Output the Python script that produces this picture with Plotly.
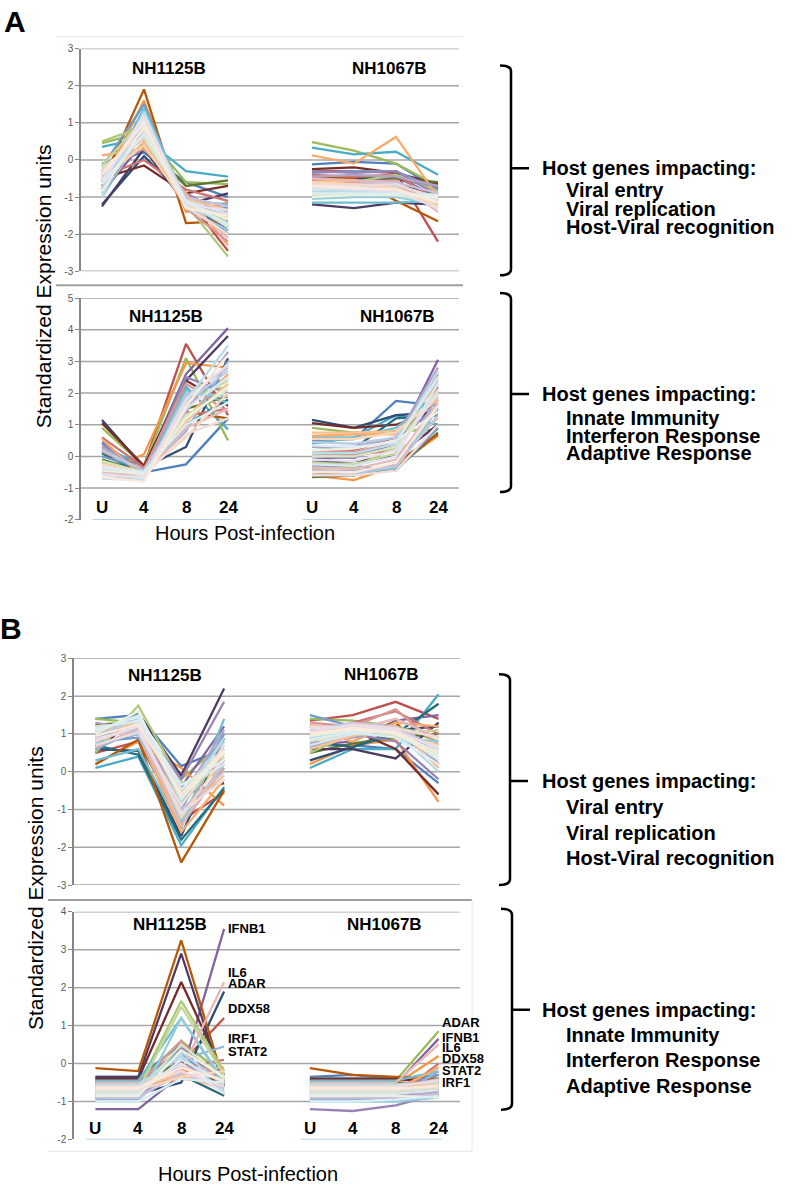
"""Host gene expression clusters after infection (panels A and B)."""

import plotly.graph_objects as go

W, H = 792, 1191
FONT = "Liberation Sans, Arial, sans-serif"

TIMEPOINTS = ["U", "4", "8", "24"]
STRAINS = ["NH1125B", "NH1067B"]
# slots on a shared category axis, slot 4 is the gap between the strains
X_1125 = [0, 1, 2, 3]
X_1067 = [5, 6, 7, 8]

COLORS = [
    "#4F81BD", "#C0504D", "#9BBB59", "#8064A2", "#4BACC6", "#F79646",
    "#2C4D75", "#772C2A", "#5F7530", "#4D3B62", "#276A7C", "#B65708",
    "#729ACA", "#CD7371", "#AFC97A", "#9983B5", "#6FBDD1", "#F9AB6B",
    "#95B3D7", "#D99694", "#C3D69B", "#B3A2C7", "#93CDDD", "#FAC090",
    "#B9CDE5", "#E6B9B8", "#D7E4BD", "#CCC1DA", "#B7DEE8", "#FCD5B5",
    "#DCE6F2", "#F2DCDB", "#EBF1DE", "#E6E0EC", "#DBEEF4", "#FDEADA",
]

# ---- panel A, top cluster ----
A_TOP_1125 = [
    [-0.1, 0.2, -0.6, -1.0], [-0.3, 0.9, -1.0, -2.45], [0.45, 0.75, -0.6, -0.65],
    [-0.9, 0.5, -1.1, -1.9], [0.35, 0.6, -0.3, -0.45], [-0.7, 1.6, -1.4, -1.15],
    [-1.2, 0.1, -1.0, -1.8], [-0.5, -0.15, -0.9, -0.7], [-0.4, 0.4, -0.7, -0.55],
    [-1.25, 0.3, -1.2, -0.9], [-0.6, 1.2, -1.1, -2.0], [-0.6, 1.9, -1.7, -1.65],
    [-0.2, 1.5, -1.2, -1.3], [-0.45, 0.0, -0.8, -1.1], [0.5, 0.9, -1.2, -2.6],
    [-0.3, 0.3, -0.9, -1.5], [-0.8, 1.4, -1.1, -1.2], [0.12, 0.3, -0.9, -2.3],
    [-1.0, 0.8, -1.15, -1.6], [-0.35, 0.6, -1.3, -2.2], [-0.15, 1.1, -1.0, -1.7],
    [-0.7, 0.9, -1.2, -1.4], [-0.5, 1.0, -1.3, -1.9], [-0.6, 0.5, -1.05, -1.35],
    [-0.9, 1.2, -1.2, -1.5], [-0.4, 0.7, -1.1, -2.1], [-0.2, 0.6, -1.15, -1.8],
    [-0.75, 1.0, -1.0, -1.25], [-1.0, 1.3, -1.25, -1.7], [-0.5, 0.4, -1.2, -1.55],
    [-0.6, 1.1, -1.1, -1.45], [-0.3, 0.8, -1.25, -2.0], [-0.85, 0.9, -1.15, -1.6],
    [-0.55, 1.2, -1.2, -1.35], [-0.65, 0.7, -1.1, -1.75], [-0.4, 1.0, -1.3, -1.5],
]
A_TOP_1067 = [
    [-0.12, -0.05, -0.1, -0.8], [-0.3, -0.3, -0.35, -2.2], [0.48, 0.25, -0.1, -0.7],
    [-0.6, -0.55, -0.5, -0.75], [0.33, 0.15, 0.22, -0.4], [-0.55, -0.6, -0.75, -0.9],
    [-0.45, -0.5, -0.45, -1.0], [-0.25, -0.2, -0.35, -0.65], [-0.5, -0.45, -0.5, -0.6],
    [-1.2, -1.3, -1.15, -1.2], [-0.7, -0.7, -0.65, -0.9], [-0.5, -0.5, -1.1, -1.65],
    [-0.35, -0.3, -0.3, -0.8], [-0.4, -0.45, -0.4, -1.1], [-0.65, -0.6, -0.4, -0.85],
    [-0.3, -0.35, -0.3, -0.95], [-1.15, -1.15, -1.15, -1.1], [0.12, -0.1, 0.62, -1.0],
    [-0.8, -0.8, -0.75, -1.05], [-0.55, -0.6, -0.55, -1.3], [-0.9, -0.85, -0.8, -0.95],
    [-0.45, -0.4, -0.45, -0.7], [-1.05, -1.0, -1.0, -1.2], [-0.6, -0.55, -0.7, -1.15],
    [-0.75, -0.7, -0.7, -1.0], [-0.5, -0.55, -0.6, -1.4], [-0.95, -0.9, -0.95, -1.15],
    [-0.7, -0.65, -0.6, -0.9], [-0.85, -0.85, -0.9, -1.05], [-0.6, -0.65, -0.75, -1.25],
    [-0.8, -0.75, -0.8, -1.1], [-0.65, -0.7, -0.65, -1.05], [-1.0, -0.95, -0.95, -1.0],
    [-0.75, -0.8, -0.85, -1.3], [-0.9, -0.9, -0.9, -0.95], [-0.7, -0.75, -0.8, -1.15],
]

# ---- panel A, bottom cluster ----
A_BOT_1125 = [
    [0.45, -0.5, -0.25, 1.2], [0.2, -0.3, 3.55, 1.3], [0.9, -0.3, 3.1, 0.5],
    [-0.2, -0.4, 2.6, 4.05], [0.3, -0.3, 2.2, 0.85], [-0.5, 0.07, 2.95, 2.8],
    [1.15, -0.35, 0.3, 3.1], [1.05, -0.3, 2.4, 1.6], [-0.1, -0.5, 1.5, 1.9],
    [-0.6, -0.45, 2.4, 3.8], [0.1, -0.6, 1.0, 1.8], [-0.6, -0.75, 1.4, 1.2],
    [0.0, -0.4, 1.8, 2.5], [0.6, -0.35, 1.3, 1.5], [-0.4, -0.6, 1.9, 2.2],
    [0.4, -0.5, 2.5, 2.0], [-0.3, -0.45, 2.1, 1.7], [0.55, -0.7, 1.2, 2.6],
    [-0.5, -0.55, 0.8, 3.0], [0.15, -0.4, 2.3, 1.4], [-0.2, -0.6, 1.6, 2.4],
    [0.3, -0.5, 1.4, 3.3], [-0.6, -0.7, 2.0, 1.9], [-0.35, -0.55, 1.1, 2.3],
    [0.2, -0.45, 1.7, 2.7], [-0.5, -0.65, 0.9, 1.5], [-0.15, -0.5, 1.3, 2.1],
    [-0.4, -0.6, 1.9, 2.8], [-0.7, -0.75, 1.75, 3.5], [-0.25, -0.5, 0.6, 2.0],
    [-0.55, -0.7, 1.5, 2.5], [-0.3, -0.6, 0.7, 1.2], [-0.45, -0.55, 1.2, 2.2],
    [-0.6, -0.65, 1.8, 2.9], [-0.35, -0.5, 1.0, 1.7], [-0.65, -0.8, 1.6, 3.2],
]
A_BOT_1067 = [
    [0.5, 0.55, 1.75, 1.6], [0.2, 0.2, 0.6, 1.8], [0.9, 0.75, 0.8, 0.85],
    [-0.1, 0.0, 0.4, 3.05], [0.4, 0.6, 1.3, 1.0], [-0.6, -0.75, -0.3, 0.65],
    [1.15, 0.9, 1.3, 1.4], [1.05, 0.9, 1.0, 1.5], [-0.65, -0.6, -0.4, 0.75],
    [-0.2, -0.15, 0.0, 1.0], [0.3, 0.25, 1.2, 1.3], [-0.5, -0.6, -0.2, 0.7],
    [-0.3, -0.3, -0.45, 0.9], [0.1, 0.05, 0.2, 2.2], [-0.4, -0.35, 0.3, 2.5],
    [0.0, -0.05, 0.5, 1.6], [0.6, 0.6, 0.9, 2.0], [0.65, 0.7, 0.7, 2.3],
    [-0.5, -0.45, -0.3, 1.9], [0.2, 0.15, 0.4, 2.6], [-0.2, -0.25, 0.1, 1.2],
    [0.3, 0.3, 0.6, 2.8], [-0.6, -0.55, -0.35, 1.5], [0.75, 0.75, 0.8, 1.8],
    [0.45, 0.4, 0.6, 2.4], [-0.35, -0.4, -0.1, 1.7], [0.0, 0.0, 0.3, 2.1],
    [-0.45, -0.5, -0.3, 1.3], [0.1, 0.1, 0.4, 2.7], [0.55, 0.55, 0.75, 1.9],
    [-0.25, -0.3, 0.0, 2.3], [-0.6, -0.6, -0.45, 1.0], [0.2, 0.25, 0.5, 1.4],
    [-0.1, -0.15, 0.2, 2.0], [0.35, 0.3, 0.45, 2.5], [-0.5, -0.5, -0.2, 1.6],
]

# ---- panel B, top cluster ----
B_TOP_1125 = [
    [1.4, 1.5, 0.15, 0.6], [0.5, 0.8, -1.3, -0.55], [1.4, 1.3, -0.2, 0.8],
    [0.7, 1.0, -0.4, 1.2], [0.1, 0.4, -1.95, -0.4], [0.2, 0.8, 0.1, -0.9],
    [0.6, 0.55, -1.7, 0.9], [1.0, 1.1, -0.6, -0.3], [1.25, 1.3, -0.5, 0.3],
    [0.5, 1.55, -0.1, 2.2], [0.7, 0.45, -1.8, -0.45], [0.2, 0.85, -2.4, -0.5],
    [0.8, 0.9, -1.0, 1.0], [1.1, 1.2, -0.8, 0.4], [0.5, 1.75, -0.3, 0.0],
    [0.9, 1.3, -0.2, 1.85], [0.3, 0.6, -1.5, 1.4], [1.2, 1.0, -1.6, -0.2],
    [0.6, 1.1, -1.2, 0.7], [1.0, 1.3, -1.4, 0.1], [0.85, 1.2, -0.9, 0.5],
    [1.3, 1.1, -0.7, 1.1], [0.75, 1.0, -1.3, 0.2], [1.1, 1.25, -1.1, -0.1],
    [0.95, 1.4, -0.6, 0.8], [0.65, 1.15, -1.45, 0.3], [1.2, 1.3, -0.5, 0.6],
    [0.9, 1.1, -1.0, 0.0], [1.05, 1.5, -0.8, 0.9], [0.8, 1.2, -1.2, 0.4],
    [1.15, 1.35, -0.45, 0.2], [0.7, 1.05, -0.9, 0.7], [1.0, 1.6, -0.7, 0.5],
    [0.85, 1.2, -1.1, -0.2], [1.1, 1.45, -0.35, 0.3], [0.95, 1.25, -0.6, 0.55],
]
B_TOP_1067 = [
    [0.7, 0.7, 0.6, -0.3], [1.35, 1.5, 1.85, 1.4], [1.4, 1.35, 1.2, 0.8],
    [0.7, 0.8, 1.35, 1.5], [0.1, 0.6, 0.6, 2.05], [0.2, 0.7, 0.85, -0.8],
    [0.3, 0.65, 1.1, 1.2], [1.0, 1.1, 0.6, -0.6], [0.5, 0.75, 0.9, 1.0],
    [0.6, 0.6, 0.35, 1.3], [0.8, 0.65, 1.0, 1.8], [1.2, 1.0, 1.3, 0.2],
    [1.5, 1.2, 1.1, 0.5], [0.85, 1.3, 1.6, 1.0], [0.5, 1.0, 1.2, 0.9],
    [1.2, 1.0, 0.8, -0.2], [0.9, 1.1, 1.0, 0.3], [1.1, 0.8, 1.3, 1.2],
    [0.65, 1.0, 1.15, 0.6], [1.3, 1.2, 1.65, 0.7], [0.95, 1.15, 1.0, 1.1],
    [0.75, 0.9, 1.1, 0.2], [1.15, 1.25, 0.9, 0.8], [0.6, 0.95, 1.2, 0.1],
    [1.0, 1.2, 1.1, 0.4], [1.25, 1.1, 1.4, 0.9], [0.8, 1.0, 0.95, 0.5],
    [1.1, 1.3, 1.2, 0.6], [0.9, 1.1, 1.05, 0.0], [1.2, 1.15, 1.0, 0.7],
    [0.7, 1.0, 1.1, 0.3], [1.05, 1.25, 1.15, 0.9], [0.95, 1.1, 1.0, 0.4],
    [1.15, 1.2, 1.1, 0.6], [0.85, 1.05, 0.9, 0.2], [1.0, 1.15, 1.05, 0.5],
]

# ---- panel B, bottom cluster ----
B_BOT_1125 = [
    [-0.35, -0.35, 0.5, -0.6], [-0.45, -0.45, 0.0, 1.2], [-0.55, -0.5, 0.6, -0.3],
    [-1.2, -1.2, -0.3, 3.55], [-0.4, -0.4, 0.3, -0.8], [-0.6, -0.55, -0.4, -0.5],
    [-0.8, -0.8, -0.5, 1.9], [-0.4, -0.4, 2.15, -0.3], [-0.5, -0.5, 0.05, -0.6],
    [-0.35, -0.35, 2.9, -0.6], [-0.7, -0.7, -0.3, -0.85], [-0.12, -0.2, 3.25, -0.5],
    [-0.6, -0.6, 0.2, -0.4], [-0.9, -0.85, -0.1, 0.1], [-0.65, -0.6, 1.65, -0.2],
    [-0.5, -0.5, 0.4, -0.35], [-0.45, -0.45, 1.2, -0.5], [-0.7, -0.7, -0.2, -0.1],
    [-0.95, -0.95, 0.1, 0.45], [-0.55, -0.55, 0.6, -0.6], [-0.75, -0.7, 1.5, -0.3],
    [-0.85, -0.85, 0.0, -0.5], [-1.0, -1.0, 1.2, -0.45], [-0.6, -0.6, -0.3, -0.7],
    [-0.65, -0.65, 0.3, -0.55], [-0.5, -0.5, -0.2, 2.15], [-0.75, -0.75, 0.5, -0.4],
    [-0.9, -0.9, -0.25, -0.65], [-0.55, -0.55, 0.2, -0.75], [-0.7, -0.7, -0.35, -0.2],
    [-0.8, -0.8, 0.1, -0.5], [-0.6, -0.6, -0.2, -0.6], [-0.85, -0.85, 0.35, -0.35],
    [-0.7, -0.7, 0.0, -0.8], [-1.0, -1.0, -0.4, -0.5], [-0.65, -0.65, -0.1, -0.45],
]
B_BOT_1067 = [
    [-0.35, -0.3, -0.4, -0.5], [-0.45, -0.45, -0.45, -0.4], [-0.5, -0.5, -0.45, 0.85],
    [-0.55, -0.55, -0.55, 0.65], [-0.4, -0.4, -0.4, -0.3], [-0.6, -0.6, -0.55, 0.2],
    [-0.8, -0.8, -0.75, -0.7], [-0.4, -0.4, -0.4, -0.5], [-0.5, -0.5, -0.5, -0.6],
    [-0.75, -0.75, -0.75, -0.85], [-0.7, -0.7, -0.7, -0.6], [-0.12, -0.3, -0.35, -0.4],
    [-0.6, -0.6, -0.6, -0.3], [-0.9, -0.9, -0.85, 0.0], [-0.65, -0.65, -0.6, -0.5],
    [-1.2, -1.25, -1.1, -0.8], [-0.45, -0.45, -0.45, -0.2], [-0.7, -0.7, -0.7, -0.1],
    [-0.95, -0.95, -0.9, -0.2], [-0.55, -0.55, -0.55, -0.45], [-0.75, -0.75, -0.7, -0.6],
    [-0.85, -0.85, -0.85, -0.75], [-1.0, -1.0, -1.0, -0.9], [-0.6, -0.6, -0.6, -0.55],
    [-0.65, -0.65, -0.65, -0.4], [-0.5, -0.5, -0.5, 0.5], [-0.75, -0.75, -0.75, -0.65],
    [-0.9, -0.9, -0.9, -0.8], [-0.55, -0.55, -0.55, -0.5], [-0.7, -0.7, -0.7, -0.55],
    [-0.8, -0.8, -0.8, -0.7], [-0.6, -0.6, -0.6, -0.45], [-0.85, -0.85, -0.85, -0.9],
    [-0.7, -0.7, -0.7, -0.6], [-1.0, -1.0, -0.95, -0.85], [-0.65, -0.65, -0.65, -0.6],
]

# labelled genes in panel B bottom (name, y of the label)
GENES_1125 = ["IFNB1", "IL6", "ADAR", "DDX58", "IRF1", "STAT2"]
GENES_1125_Y = [3.55, 2.4, 2.1, 1.46, 0.65, 0.31]
GENES_1067 = ["ADAR", "IFNB1", "IL6", "DDX58", "STAT2", "IRF1"]
GENES_1067_Y = [1.07, 0.68, 0.42, 0.13, -0.18, -0.5]

FUNCTIONS_TOP = ["Viral entry", "Viral replication", "Host-Viral recognition"]
FUNCTIONS_BOT = ["Innate Immunity", "Interferon Response", "Adaptive Response"]

# pixel boxes of the four plot areas: (x0, x1, y_top, y_bottom), y range, gridlines
PANELS = [
    dict(rows=(A_TOP_1125, A_TOP_1067), box=(81, 459, 43, 268), yr=(-3, 3), grid=range(-3, 4)),
    dict(rows=(A_BOT_1125, A_BOT_1067), box=(81, 459, 295, 519), yr=(-2, 5), grid=range(-1, 6)),
    dict(rows=(B_TOP_1125, B_TOP_1067), box=(74, 460, 659, 888), yr=(-3, 3), grid=range(-3, 4)),
    dict(rows=(B_BOT_1125, B_BOT_1067), box=(74, 460, 915, 1145), yr=(-2, 4), grid=range(-1, 5)),
]


def px(x):
    return x / W


def py(y):
    return 1 - y / H


def text(x, y, s, size, bold=True, anchor="center", **kw):
    return dict(
        x=px(x), y=py(y), xref="paper", yref="paper", showarrow=False,
        text=f"<b>{s}</b>" if bold else s, xanchor=anchor, yanchor="middle",
        font=dict(family=FONT, size=size, color="black"), **kw,
    )


def bracket(x, y_top, y_mid, y_bot):
    path = (
        f"M {px(x - 11)},{py(y_top)} Q {px(x)},{py(y_top)} {px(x)},{py(y_top + 6)} "
        f"L {px(x)},{py(y_bot - 6)} Q {px(x)},{py(y_bot)} {px(x - 11)},{py(y_bot)} "
        f"M {px(x)},{py(y_mid)} L {px(x + 18)},{py(y_mid)}"
    )
    return dict(type="path", xref="paper", yref="paper", path=path,
                line=dict(color="black", width=2.5))


fig = go.Figure()
shapes = []
annotations = []
layout_axes = {}

for n, panel in enumerate(PANELS, start=1):
    xa, ya = ("x", "y") if n == 1 else (f"x{n}", f"y{n}")
    x0, x1, y0, y1 = panel["box"]
    rows_1125, rows_1067 = panel["rows"]
    for i, (r1, r2) in enumerate(zip(rows_1125, rows_1067)):
        fig.add_trace(go.Scatter(
            x=X_1125 + [None] + X_1067,
            y=r1 + [None] + r2,
            mode="lines",
            line=dict(color=COLORS[i % len(COLORS)], width=2.3),
            xaxis=xa, yaxis=ya, showlegend=False, hoverinfo="skip",
        ))
    lo, hi = panel["yr"]
    layout_axes["xaxis" if n == 1 else f"xaxis{n}"] = dict(
        domain=[px(x0), px(x1)], range=[-0.5, 8.5], visible=False, anchor=ya,
    )
    layout_axes["yaxis" if n == 1 else f"yaxis{n}"] = dict(
        domain=[py(y1), py(y0)], range=[lo, hi], anchor=xa,
        tickvals=list(range(lo, hi + 1)), ticktext=[str(v) for v in range(lo, hi + 1)],
        showgrid=False, zeroline=False, showline=True, linecolor="#868686", linewidth=1.5,
        ticks="outside", ticklen=4, tickcolor="#868686",
        tickfont=dict(family=FONT, size=10, color="#595959"),
    )
    for v in panel["grid"]:
        shapes.append(dict(type="line", xref=f"{xa} domain", yref=ya, x0=0, x1=1, y0=v, y1=v,
                           line=dict(color="#A6A6A6", width=1.5), layer="below"))

# strain titles
for (x, y), s in zip([(169, 63), (389, 63), (166, 314), (398, 314),
                      (165, 676), (381, 675), (170, 928), (384, 928)], STRAINS * 4):
    annotations.append(text(x, y, s, 17))

# time point labels and blue underline, bottom clusters
for n, y_lab in [(2, -1.62), (4, -1.71)]:
    xa, ya = f"x{n}", f"y{n}"
    for xs in (X_1125, X_1067):
        for xv, t in zip(xs, TIMEPOINTS):
            annotations.append(dict(x=xv, y=y_lab, xref=xa, yref=ya, text=f"<b>{t}</b>",
                                    showarrow=False,
                                    font=dict(family=FONT, size=17, color="black")))
        shapes.append(dict(type="line", xref=xa, yref=ya, x0=xs[0] - 0.22, x1=xs[-1] + 0.08,
                           y0=-2, y1=-2, line=dict(color="#9DC3E6", width=1.5)))

# gene labels, B bottom
for g, yv in zip(GENES_1125, GENES_1125_Y):
    annotations.append(dict(x=3, y=yv, xref="x4", yref="y4", text=f"<b>{g}</b>", showarrow=False,
                            xanchor="left", xshift=2,
                            font=dict(family=FONT, size=13, color="black")))
for g, yv in zip(GENES_1067, GENES_1067_Y):
    annotations.append(dict(x=8, y=yv, xref="x4", yref="y4", text=f"<b>{g}</b>", showarrow=False,
                            xanchor="left", xshift=1,
                            font=dict(family=FONT, size=13, color="black")))

# axis titles
for (x, y) in [(43, 283), (35, 891)]:
    annotations.append(text(x, y, "Standardized Expression units", 21, bold=False, textangle=-90))
for (x, y) in [(245, 532), (248, 1180)]:
    annotations.append(text(x, y, "Hours Post-infection", 20, bold=False))

# panel letters
annotations.append(text(15, 16, "A", 30))
annotations.append(text(11, 629, "B", 30))

# brackets and gene-function text
for (bx, top, mid, bot), items, ys in [
    ((511, 60, 164, 272), FUNCTIONS_TOP, (186, 205, 223)),
    ((511, 290, 392, 491), FUNCTIONS_BOT, (416, 434, 452)),
    ((510, 675, 783, 888), FUNCTIONS_TOP, (809, 835, 861)),
    ((512, 912, 1014, 1115), FUNCTIONS_BOT, (1039, 1065, 1091)),
]:
    shapes.append(bracket(bx, top, mid, bot))
    annotations.append(text(540, mid, "Host genes impacting:", 20, anchor="left"))
    for s, yy in zip(items, ys):
        annotations.append(text(564, yy, s, 20, anchor="left"))

# chart-area frame lines
for x0, y0, x1, y1, c, w in [
    (56, 31, 463, 31, "#E3E3E3", 1),
    (56, 282, 463, 282, "#A0A0A0", 2),
    (48, 903, 472, 903, "#A0A0A0", 2),
    (472, 903, 472, 1157, "#E6E6E6", 1),
    (48, 1157, 472, 1157, "#E6E6E6", 1),
]:
    shapes.append(dict(type="line", xref="paper", yref="paper", x0=px(x0), y0=py(y0),
                       x1=px(x1), y1=py(y1), line=dict(color=c, width=w)))

fig.update_layout(
    width=W, height=H,
    margin=dict(l=0, r=0, t=0, b=0),
    paper_bgcolor="white", plot_bgcolor="white",
    font=dict(family=FONT),
    shapes=shapes, annotations=annotations,
    **layout_axes,
)

# drop the default page margin and scrollbars so the figure fills the window exactly
fig.write_html(
    "out.html",
    config={"displayModeBar": False},
    post_script=(
        "document.body.style.margin = '0';"
        "document.documentElement.style.overflow = 'hidden';"
    ),
)
